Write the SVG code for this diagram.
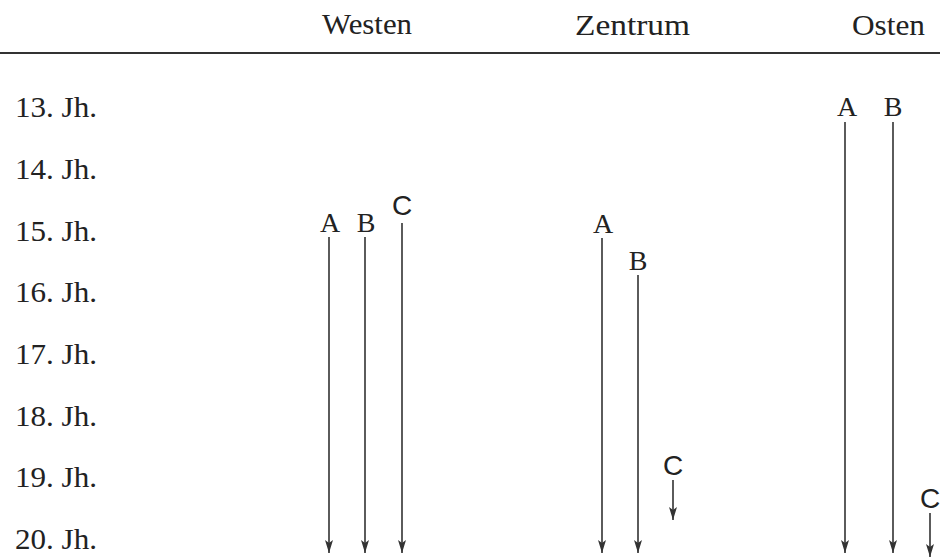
<svg xmlns="http://www.w3.org/2000/svg" width="940" height="558" viewBox="0 0 940 558">
<style>
text{font-family:"Liberation Serif","Times New Roman",serif;fill:#222;}
.hd{font-size:30px;}
.row{font-size:30px;}
.lt{font-size:28px;text-anchor:middle;}
.lc{font-family:"Liberation Sans",Arial,sans-serif;font-size:28px;text-anchor:middle;}
.ar{stroke:#333;stroke-width:1.6;fill:none;marker-end:url(#ah);}
</style>
<defs>
<marker id="ah" markerUnits="userSpaceOnUse" markerWidth="13" markerHeight="8" refX="13" refY="4" orient="auto" viewBox="0 0 13 8">
<path d="M0,0 L13,4 L0,8 L3,4 z" fill="#333"/>
</marker>
</defs>
<rect width="940" height="558" fill="#fff"/>
<g id="header">
<text class="hd" x="322" y="34" textLength="90" lengthAdjust="spacingAndGlyphs">Westen</text>
<text class="hd" x="575" y="35" textLength="115" lengthAdjust="spacingAndGlyphs">Zentrum</text>
<text class="hd" x="852" y="35" textLength="73" lengthAdjust="spacingAndGlyphs">Osten</text>
<line x1="0" y1="53" x2="940" y2="53" stroke="#333" stroke-width="2.2"/>
</g>
<g id="rows">
<text class="row" x="15" y="117" textLength="82" lengthAdjust="spacingAndGlyphs">13. Jh.</text>
<text class="row" x="15" y="179" textLength="82" lengthAdjust="spacingAndGlyphs">14. Jh.</text>
<text class="row" x="15" y="241" textLength="82" lengthAdjust="spacingAndGlyphs">15. Jh.</text>
<text class="row" x="15" y="302" textLength="82" lengthAdjust="spacingAndGlyphs">16. Jh.</text>
<text class="row" x="15" y="364" textLength="82" lengthAdjust="spacingAndGlyphs">17. Jh.</text>
<text class="row" x="15" y="426" textLength="82" lengthAdjust="spacingAndGlyphs">18. Jh.</text>
<text class="row" x="15" y="487" textLength="82" lengthAdjust="spacingAndGlyphs">19. Jh.</text>
<text class="row" x="15" y="549" textLength="82" lengthAdjust="spacingAndGlyphs">20. Jh.</text>
</g>
<g id="west-A"><text class="lt" x="330" y="232">A</text></g>
<g id="west-B"><text class="lt" x="366" y="232">B</text></g>
<g id="west-C"><text class="lc" x="402" y="215">C</text></g>
<g id="center-A"><text class="lt" x="603" y="233">A</text></g>
<g id="center-B"><text class="lt" x="638" y="270">B</text></g>
<g id="center-C"><text class="lc" x="673" y="475">C</text></g>
<g id="east-A"><text class="lt" x="847" y="116">A</text></g>
<g id="east-B"><text class="lt" x="893" y="116">B</text></g>
<g id="east-C"><text class="lc" x="930" y="508">C</text></g>
<g id="connectors">
<line class="ar" x1="329" y1="237" x2="329" y2="553"/>
<line class="ar" x1="365" y1="237" x2="365" y2="553"/>
<line class="ar" x1="402" y1="223" x2="402" y2="553"/>
<line class="ar" x1="602" y1="238" x2="602" y2="553"/>
<line class="ar" x1="638" y1="275" x2="638" y2="553"/>
<line class="ar" x1="673" y1="480" x2="673" y2="520"/>
<line class="ar" x1="845" y1="122" x2="845" y2="553"/>
<line class="ar" x1="893" y1="122" x2="893" y2="553"/>
<line class="ar" x1="930" y1="513" x2="930" y2="557"/>
</g>
</svg>
